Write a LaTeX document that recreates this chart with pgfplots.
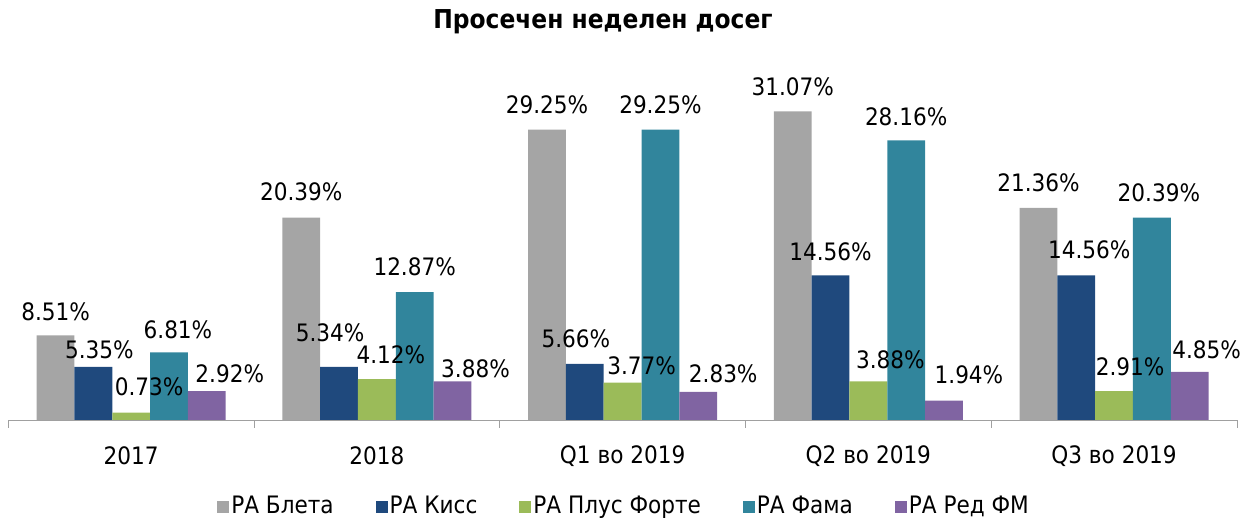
\documentclass[border=0pt]{standalone}
\usepackage{fontspec}
\setmainfont{DejaVu Sans Condensed}
\usepackage{pgfplots}
\usepackage{pgfplotstable}
\pgfplotsset{compat=1.18}
\definecolor{cgray}{HTML}{A5A5A5}
\definecolor{cblue}{HTML}{1F497D}
\definecolor{cgreen}{HTML}{9BBB59}
\definecolor{cteal}{HTML}{31859C}
\definecolor{cpurple}{HTML}{8064A2}
\definecolor{caxis}{HTML}{A0A0A0}

% x: group index, y: value, dx/dy: label offset (pt) from bar top
\pgfplotstableread{
x y dx dy
0 8.51 0 24
1 20.39 0 26
2 29.25 0 25
3 31.07 0 25
4 21.36 0 25
}\tblBleta
\pgfplotstableread{
x y dx dy
0 5.35 6 17
1 5.34 -9 34
2 5.66 -9 25
3 14.56 0 24
4 14.56 13 26
}\tblKiss
\pgfplotstableread{
x y dx dy
0 0.73 18 26
1 4.12 14 24
2 3.77 19 17
3 3.88 22 22
4 2.91 16 24
}\tblPlus
\pgfplotstableread{
x y dx dy
0 6.81 9 23
1 12.87 0 25
2 29.25 0 25
3 28.16 0 24
4 20.39 7 25
}\tblFama
\pgfplotstableread{
x y dx dy
0 2.92 23 17
1 3.88 23 13
2 2.83 25 18
3 1.94 25 26
4 4.85 17 22
}\tblRed

\begin{document}
\fontsize{24pt}{28pt}\selectfont
\begin{tikzpicture}[x=1pt,y=1pt]
\useasboundingbox (0,0) rectangle (1246,521);
\node[font=\fontsize{26pt}{30pt}\selectfont\bfseries] at (603,499) {Просечен неделен досег};
\begin{axis}[
  at={(8.3pt,101pt)}, anchor=south west,
  scale only axis, width=1228.7pt, height=340pt,
  ymin=0, ymax=34.24,
  xmin=-0.5, xmax=4.5,
  clip=false,
  ybar=0pt, bar width=37.8pt,
  axis x line=bottom, axis y line=none,
  axis line style={-, color=caxis, line width=0.8pt},
  xtick={0,1,2,3,4},
  xticklabels={2017,2018,Q1 во 2019,Q2 во 2019,Q3 во 2019},
  major tick length=0pt,
  minor xtick={-0.5,0.5,1.5,2.5,3.5,4.5},
  minor tick length=8pt,
  tick align=outside,
  minor tick style={color=caxis, line width=0.8pt},
  xticklabel style={anchor=center, yshift=-36pt, font=\fontsize{24pt}{28pt}\selectfont},
  /pgf/number format/assume math mode=true,
  nodes near coords={\pgfmathprintnumber[fixed,fixed zerofill,precision=2]{\pgfplotspointmeta}\%},
  visualization depends on={\thisrow{dx} \as \labdx},
  visualization depends on={\thisrow{dy} \as \labdy},
  every node near coord/.append style={anchor=center, xshift=\labdx pt, yshift=\labdy pt, font=\fontsize{24pt}{28pt}\selectfont, text=black, inner sep=0pt},
  legend columns=5,
  legend style={at={(0.5,0)}, anchor=center, yshift=-87pt, xshift=1.5pt, draw=none,
    font=\fontsize{24pt}{28pt}\selectfont,
    /tikz/every even column/.append style={column sep=40pt}},
  legend image code/.code={\fill[#1] (0pt,-6pt) rectangle (12pt,6pt);},
]
\addplot[fill=cgray, draw=none] table[x=x,y=y] {\tblBleta};
\addplot[fill=cblue, draw=none] table[x=x,y=y] {\tblKiss};
\addplot[fill=cgreen, draw=none] table[x=x,y=y] {\tblPlus};
\addplot[fill=cteal, draw=none] table[x=x,y=y] {\tblFama};
\addplot[fill=cpurple, draw=none] table[x=x,y=y] {\tblRed};
\legend{РА Блета, РА Кисс, РА Плус Форте, РА Фама, РА Ред ФМ}
\end{axis}
\end{tikzpicture}
\end{document}
